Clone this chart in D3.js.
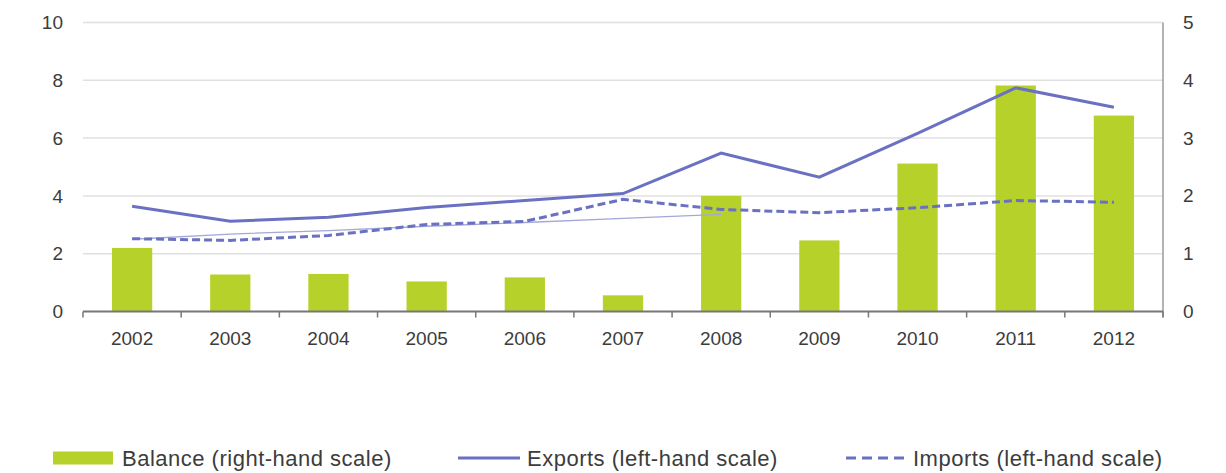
<!DOCTYPE html>
<html>
<head>
<meta charset="utf-8">
<script src="https://cdn.jsdelivr.net/npm/d3@7"></script>
<style>
  body { margin: 0; background: #fff; }
  svg { display: block; }
  text { font-family: "Liberation Sans", Arial, sans-serif; fill: #3c3c3c; }
</style>
</head>
<body>
<svg id="chart" width="1226" height="473"></svg>
<script>
// chart data
const years   = ["2002","2003","2004","2005","2006","2007","2008","2009","2010","2011","2012"]
const balance = [1.10, 0.64, 0.65, 0.52, 0.59, 0.28, 2.00, 1.23, 2.56, 3.91, 3.39]   // right-hand scale
const exports = [3.64, 3.12, 3.26, 3.60, 3.84, 4.08, 5.48, 4.65, 6.16, 7.74, 7.07]   // left-hand scale
const imports = [2.52, 2.46, 2.63, 3.01, 3.12, 3.88, 3.53, 3.42, 3.59, 3.84, 3.78]   // left-hand scale
// faint leftover line seen between 2002 and 2008
const faintYears  = ["2002","2003","2004","2005","2006","2007","2008"]
const faintValues = [2.50, 2.68, 2.80, 2.95, 3.08, 3.22, 3.36]
const leftTicks  = [0, 2, 4, 6, 8, 10]
const rightTicks = [0, 1, 2, 3, 4, 5]
const legendItems = ["Balance (right-hand scale)", "Exports (left-hand scale)", "Imports (left-hand scale)"]

const barColor  = "#b7d12b"
const lineColor = "#6a71c2"
const fontFam = '"Liberation Sans", Arial, sans-serif'

const svg = d3.select("#chart")
const plotL = 83, plotR = 1163, plotT = 22.5, plotB = 311.5

let x = d3.scaleBand().domain(years).range([plotL, plotR]).padding(0)
let yL = d3.scaleLinear().domain([0, 10]).range([plotB, plotT])
let yR = d3.scaleLinear().domain([0, 5]).range([plotB, plotT])

// gridlines
svg.append("g")
    .selectAll("line")
    .data(leftTicks.filter(d => d > 0))
    .join("line")
    .attr("x1", plotL).attr("x2", plotR)
    .attr("y1", d => yL(d)).attr("y2", d => yL(d))
    .attr("stroke", "#e0e0e0")
    .attr("stroke-width", 1.5)

// left labels
svg.append("g")
    .selectAll("text")
    .data(leftTicks)
    .join("text")
    .attr("x", 63)
    .attr("y", d => yL(d))
    .attr("dy", "0.35em")
    .attr("text-anchor", "end")
    .style("font-size", "19px")
    .text(d => d)

// right axis
let rightAxis = d3.axisRight(yR).tickValues(rightTicks).tickFormat(d3.format("d")).tickSize(0).tickPadding(20)
let gR = svg.append("g")
    .attr("transform", `translate(${plotR},0)`)
    .call(rightAxis)
gR.select(".domain").remove()
gR.selectAll("text")
    .style("font-size", "19px")
    .style("font-family", fontFam)
    .attr("fill", "#3c3c3c")
svg.append("line")
    .attr("x1", plotR).attr("x2", plotR)
    .attr("y1", plotT).attr("y2", plotB + 6)
    .attr("stroke", "#9a9a9a")
    .attr("stroke-width", 1.5)

// bars
let bw = x.bandwidth() * 0.41
svg.append("g")
    .selectAll("rect")
    .data(years)
    .join("rect")
    .attr("x", d => x(d) + (x.bandwidth() - bw) / 2)
    .attr("width", bw)
    .attr("y", (d, i) => yR(balance[i]))
    .attr("height", (d, i) => plotB - yR(balance[i]))
    .attr("fill", barColor)

// bottom axis
let bottomAxis = d3.axisBottom(x).tickSize(0).tickPadding(20)
let gB = svg.append("g")
    .attr("transform", `translate(0,${plotB})`)
    .call(bottomAxis)
gB.select(".domain").remove()
gB.selectAll("text")
    .style("font-size", "19px")
    .style("font-family", fontFam)
    .attr("fill", "#3c3c3c")
svg.append("line")
    .attr("x1", plotL).attr("x2", plotR)
    .attr("y1", plotB).attr("y2", plotB)
    .attr("stroke", "#777")
    .attr("stroke-width", 2)
svg.append("g")
    .selectAll("line")
    .data(years.concat(["end"]))
    .join("line")
    .attr("x1", (d, i) => plotL + i * x.bandwidth())
    .attr("x2", (d, i) => plotL + i * x.bandwidth())
    .attr("y1", plotB).attr("y2", plotB + 6)
    .attr("stroke", "#777")
    .attr("stroke-width", 1.5)

// lines
let cx = d => x(d) + x.bandwidth() / 2
let lineL = d3.line().x(d => cx(d[0])).y(d => yL(d[1]))

svg.append("path")
    .datum(d3.zip(faintYears, faintValues))
    .attr("d", lineL)
    .attr("fill", "none")
    .attr("stroke", "#a3a8d8")
    .attr("stroke-width", 1.3)

svg.append("path")
    .datum(d3.zip(years, imports))
    .attr("d", lineL)
    .attr("fill", "none")
    .attr("stroke", lineColor)
    .attr("stroke-width", 3)
    .attr("stroke-dasharray", "8,4")

svg.append("path")
    .datum(d3.zip(years, exports))
    .attr("d", lineL)
    .attr("fill", "none")
    .attr("stroke", lineColor)
    .attr("stroke-width", 3)

// legend
const legY = 458
let leg = svg.append("g")
leg.append("rect")
    .attr("x", 53).attr("y", legY - 6.5)
    .attr("width", 60).attr("height", 13)
    .attr("fill", barColor)
leg.append("line")
    .attr("x1", 458).attr("x2", 520)
    .attr("y1", legY).attr("y2", legY)
    .attr("stroke", lineColor).attr("stroke-width", 3)
leg.append("line")
    .attr("x1", 846).attr("x2", 907)
    .attr("y1", legY).attr("y2", legY)
    .attr("stroke", lineColor).attr("stroke-width", 3)
    .attr("stroke-dasharray", "10,6")
leg.selectAll("text")
    .data(legendItems)
    .join("text")
    .attr("x", (d, i) => [122, 527, 913][i])
    .attr("y", legY)
    .attr("dy", "0.35em")
    .style("font-size", "22px")
    .style("letter-spacing", "0.5px")
    .text(d => d)
</script>
</body>
</html>
